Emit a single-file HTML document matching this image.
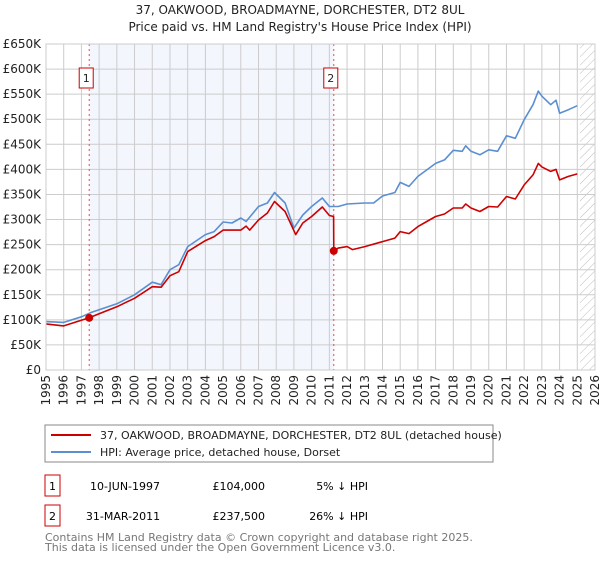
<!DOCTYPE html>
<html><head><meta charset="utf-8"><style>
body{margin:0;background:#fff;font-family:"DejaVu Sans","Liberation Sans",sans-serif;}
svg text{font-family:"DejaVu Sans","Liberation Sans",sans-serif;}
</style></head><body>
<svg id="c" width="600" height="560" xmlns="http://www.w3.org/2000/svg">
<defs><pattern id="hatch" width="6" height="6" patternUnits="userSpaceOnUse" patternTransform="rotate(45)"><line x1="0" y1="0" x2="0" y2="6" stroke="#bbb" stroke-width="1"/></pattern></defs>
<text x="300" y="14" text-anchor="middle" font-size="12" fill="#222">37, OAKWOOD, BROADMAYNE, DORCHESTER, DT2 8UL</text>
<text x="300" y="31" text-anchor="middle" font-size="12" fill="#222">Price paid vs. HM Land Registry's House Price Index (HPI)</text>
<g id="plot"></g>
<rect x="45" y="425" width="448" height="37" fill="#fff" stroke="#888"/>
<line x1="51" y1="435" x2="91" y2="435" stroke="#cc0000" stroke-width="2"/>
<text x="100" y="439" font-size="11" fill="#222">37, OAKWOOD, BROADMAYNE, DORCHESTER, DT2 8UL (detached house)</text>
<line x1="51" y1="452" x2="91" y2="452" stroke="#5b8fd0" stroke-width="2"/>
<text x="100" y="456" font-size="11" fill="#222">HPI: Average price, detached house, Dorset</text>
<g>
<rect x="45" y="475" width="15" height="21" fill="#fff" stroke="#cc0000"/><text x="52.5" y="490" text-anchor="middle" font-size="11">1</text>
<text x="125" y="490" text-anchor="middle" font-size="11">10-JUN-1997</text>
<text x="265" y="490" text-anchor="end" font-size="11">£104,000</text>
<text x="368" y="490" text-anchor="end" font-size="11">5% ↓ HPI</text></g>
<g>
<rect x="45" y="505" width="15" height="21" fill="#fff" stroke="#cc0000"/><text x="52.5" y="520" text-anchor="middle" font-size="11">2</text>
<text x="123" y="520" text-anchor="middle" font-size="11">31-MAR-2011</text>
<text x="265" y="520" text-anchor="end" font-size="11">£237,500</text>
<text x="368" y="520" text-anchor="end" font-size="11">26% ↓ HPI</text></g>
<text x="45" y="541" font-size="11" fill="#777">Contains HM Land Registry data © Crown copyright and database right 2025.</text>
<text x="45" y="551" font-size="11" fill="#777">This data is licensed under the Open Government Licence v3.0.</text>
</svg>
<script>
const yTicks=[0,50,100,150,200,250,300,350,400,450,500,550,600,650];
const yTickLabels=["£0","£50K","£100K","£150K","£200K","£250K","£300K","£350K","£400K","£450K","£500K","£550K","£600K","£650K"];
const xYears=[1995,1996,1997,1998,1999,2000,2001,2002,2003,2004,2005,2006,2007,2008,2009,2010,2011,2012,2013,2014,2015,2016,2017,2018,2019,2020,2021,2022,2023,2024,2025,2026];
const hpiDates=[1995,1996,1997,1997.5,1998,1999,2000,2001,2001.5,2002,2002.5,2003,2004,2004.5,2005,2005.5,2006,2006.3,2007,2007.5,2007.9,2008.5,2009,2009.5,2010,2010.6,2011,2011.5,2012,2013,2013.5,2014,2014.7,2015,2015.5,2016,2016.5,2017,2017.5,2018,2018.5,2018.7,2019,2019.5,2020,2020.5,2021,2021.5,2022,2022.5,2022.8,2023,2023.5,2023.8,2024,2024.5,2025];
const hpiValues=[96.5,95,106,114,120,132,150,175,170,200,210,246,270,276,295,293,303,296,326,333,354,333,283,309,326,343,326,326,331,333,333,347,354,374,366,386,399,412,419,438,436,447,436,429,439,436,467,462,499,529,556,546,529,538,512,519,527];
const priceDates=[1995,1996,1997.44,1998,1999,2000,2001,2001.5,2002,2002.5,2003,2004,2004.5,2005,2006,2006.3,2006.5,2007,2007.5,2007.9,2008.5,2009.1,2009.5,2010,2010.6,2011,2011.24,2011.25,2011.5,2012,2012.3,2013,2014,2014.7,2015,2015.5,2016,2016.5,2017,2017.5,2018,2018.5,2018.7,2019,2019.5,2020,2020.5,2021,2021.5,2022,2022.5,2022.8,2023,2023.5,2023.8,2024,2024.5,2025];
const priceValues=[92,88,104,112,126,143,166,165,188,196,236,258,266,279,279,287,279,299,313,336,316,270,293,306,325,308,306,237.5,243,246,240,246,256,263,276,272,286,296,306,311,323,323,331,323,316,326,325,346,341,369,389,412,405,396,400,379,386,391];
const saleDates=[1997.44,2011.25];
const saleValues=[104,237.5];
const saleLabels=["1","2"];
const NS="http://www.w3.org/2000/svg";
const L=46,R=595,T=44,B=370;
const xS=d=>L+(d-1995)/(2026-1995)*(R-L);
const yS=v=>B-v/650*(B-T);
const g=document.getElementById('plot');
function mk(t,a,p){const e=document.createElementNS(NS,t);for(const k in a)e.setAttribute(k,a[k]);(p||g).appendChild(e);return e;}
let e=mk('rect',{x:xS(saleDates[0]),y:T,width:xS(saleDates[1])-xS(saleDates[0]),height:B-T,fill:'#f0f4fc',opacity:0.8});


e=mk('rect',{x:xS(2025.15),y:T,width:R-xS(2025.15),height:B-T,fill:'url(#hatch)'});


yTicks.forEach((v,i)=>{
 e=mk('line',{x1:L,x2:R,y1:yS(v),y2:yS(v),stroke:'#ccc','stroke-width':1});
 
 
 e=mk('text',{x:L-5,y:yS(v)+4,'text-anchor':'end','font-size':12,fill:'#222'});
 e.textContent=yTickLabels[i];
 
 
});
xYears.forEach(y=>{
 e=mk('line',{x1:xS(y),x2:xS(y),y1:T,y2:B,stroke:'#ccc','stroke-width':1});
 
 
 const tx=xS(y)+4,ty=375;
 e=mk('text',{x:tx,y:ty,'text-anchor':'end','font-size':12,fill:'#222',transform:'rotate(-90 '+tx+' '+ty+')'});
 e.textContent=y;
 
 
});
saleDates.forEach((d,i)=>{
 e=mk('line',{x1:xS(d),x2:xS(d),y1:T,y2:B,stroke:'#e05050','stroke-dasharray':'2,3','stroke-width':1});
 
 
});
function line(ds,vs,col,name){
 const pts=ds.map((d,i)=>xS(d).toFixed(1)+','+yS(vs[i]).toFixed(1)).join(' ');
 const el=mk('polyline',{points:pts,fill:'none',stroke:col,'stroke-width':1.6,'stroke-linejoin':'round'});
 
 
}
line(hpiDates,hpiValues,'#5b8fd0','hpi-line');
line(priceDates,priceValues,'#cc0000','price-line');
saleDates.forEach((d,i)=>{
 e=mk('circle',{cx:xS(d),cy:yS(saleValues[i]),r:4,fill:'#cc0000'});
 
 
 const bx=xS(d)-10;
 e=mk('rect',{x:bx,y:68,width:14,height:20,fill:'#fff',stroke:'#cc0000'});
 
 
 e=mk('text',{x:bx+7,y:82,'text-anchor':'middle','font-size':11,fill:'#222'});
 e.textContent=saleLabels[i];
 
 
});
mk('rect',{x:L,y:T,width:R-L,height:B-T,fill:'none',stroke:'#ccc'});
</script>
</body></html>
